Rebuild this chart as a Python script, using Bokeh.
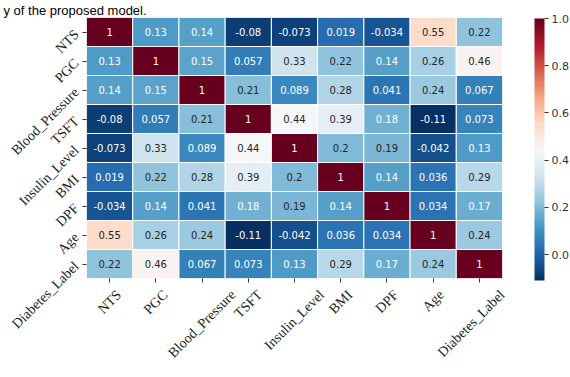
import numpy as np
from bokeh.plotting import figure
from bokeh.models import (ColumnDataSource, LinearColorMapper, ColorBar, FixedTicker,
                          PrintfTickFormatter, CustomJSTickFormatter, LinearAxis, Range1d)
from bokeh.core.properties import value
from bokeh.embed import file_html
from bokeh.resources import INLINE

# ---------------- data ----------------
features = ["NTS", "PGC", "Blood_Pressure", "TSFT", "Insulin_Level", "BMI", "DPF", "Age", "Diabetes_Label"]

row_nts = [1, 0.13, 0.14, -0.08, -0.073, 0.019, -0.034, 0.55, 0.22]
row_pgc = [0.13, 1, 0.15, 0.057, 0.33, 0.22, 0.14, 0.26, 0.46]
row_bp = [0.14, 0.15, 1, 0.21, 0.089, 0.28, 0.041, 0.24, 0.067]
row_tsft = [-0.08, 0.057, 0.21, 1, 0.44, 0.39, 0.18, -0.11, 0.073]
row_insulin = [-0.073, 0.33, 0.089, 0.44, 1, 0.2, 0.19, -0.042, 0.13]
row_bmi = [0.019, 0.22, 0.28, 0.39, 0.2, 1, 0.14, 0.036, 0.29]
row_dpf = [-0.034, 0.14, 0.041, 0.18, 0.19, 0.14, 1, 0.034, 0.17]
row_age = [0.55, 0.26, 0.24, -0.11, -0.042, 0.036, 0.034, 1, 0.24]
row_label = [0.22, 0.46, 0.067, 0.073, 0.13, 0.29, 0.17, 0.24, 1]

corr_rows = [row_nts, row_pgc, row_bp, row_tsft, row_insulin, row_bmi, row_dpf, row_age, row_label]

colorbar_ticks = [0.0, 0.2, 0.4, 0.6, 0.8, 1.0]
caption_text = "y of the proposed model."

# ---------------- colour map (RdBu_r) ----------------
rdbu_r_anchors = ["#053061", "#2166ac", "#4393c3", "#92c5de", "#d1e5f0", "#f7f7f7",
                  "#fddbc7", "#f4a582", "#d6604d", "#b2182b", "#67001f"]


def hex_to_rgb(h):
    h = h.lstrip("#")
    return [int(h[i:i + 2], 16) / 255.0 for i in (0, 2, 4)]


def interp_palette(anchors, n=256):
    rgb = np.array([hex_to_rgb(a) for a in anchors])
    pos = np.linspace(0, 1, len(anchors))
    t = np.linspace(0, 1, n)
    out = []
    for tt in t:
        c = [np.interp(tt, pos, rgb[:, k]) for k in range(3)]
        out.append("#%02x%02x%02x" % tuple(int(round(v * 255)) for v in c))
    return out


palette = interp_palette(rdbu_r_anchors, 256)
all_vals = [v for r in corr_rows for v in r]
vmin, vmax = min(all_vals), max(all_vals)
mapper = LinearColorMapper(palette=palette, low=vmin, high=vmax)


def cell_color(v):
    idx = int((v - vmin) / (vmax - vmin) * len(palette))
    idx = max(0, min(len(palette) - 1, idx))
    return palette[idx]


def rel_lum(hexcol):
    rgb = hex_to_rgb(hexcol)
    lin = [c / 12.92 if c <= 0.03928 else ((c + 0.055) / 1.055) ** 2.4 for c in rgb]
    return 0.2126 * lin[0] + 0.7152 * lin[1] + 0.0722 * lin[2]


# column positions on a numeric x scale: one unit per feature, centred at k + 0.5
col_center = {f: k + 0.5 for k, f in enumerate(features)}

xs, ys, vals, texts, tcolors = [], [], [], [], []
for i, rname in enumerate(features):
    for j, cname in enumerate(features):
        v = corr_rows[i][j]
        xs.append(col_center[cname])
        ys.append(rname)
        vals.append(v)
        texts.append(format(float(v), ".2g"))
        tcolors.append("#262626" if rel_lum(cell_color(v)) > 0.408 else "#ffffff")

src = ColumnDataSource(dict(x=xs, y=ys, val=vals, label=texts, tcolor=tcolors))

# ---------------- layout constants ----------------
W, H = 570, 377
BL, BR, BT, BB = 84, 68, 16, 99
FW, FH = W - BL - BR, H - BT - BB
TICK_FONT_PX = 14

# ---------------- figure ----------------
p = figure(width=W, height=H, x_range=Range1d(0, len(features)), y_range=list(reversed(features)),
           output_backend="svg", toolbar_location=None, title=caption_text,
           min_border_left=BL, min_border_right=BR, min_border_top=BT, min_border_bottom=BB)
p.outline_line_color = None
p.xgrid.visible = False
p.ygrid.visible = False
p.background_fill_color = "white"
p.border_fill_color = "white"

p.title.align = "left"
p.title.offset = -BL + 1
p.title.standoff = 0
p.title.text_font = "Liberation Sans"
p.title.text_font_size = "13px"
p.title.text_font_style = "normal"
p.title.text_color = "black"

p.rect(x="x", y="y", width=1, height=1, source=src,
       fill_color={"field": "val", "transform": mapper},
       line_color="white", line_width=1)

p.text(x="x", y="y", text="label", source=src, text_color="tcolor",
       text_align="center", text_baseline="middle",
       text_font=value("DejaVu Sans"), text_font_size="10px")

for ax in (p.xaxis[0], p.yaxis[0]):
    ax.axis_line_color = None
    ax.major_tick_line_color = "#333333"
    ax.major_tick_out = 4
    ax.major_tick_in = 0
    ax.minor_tick_line_color = None
    ax.major_label_text_font = "Liberation Serif"
    ax.major_label_text_font_size = "%dpx" % TICK_FONT_PX
    ax.major_label_text_color = "#222222"

p.yaxis[0].major_label_orientation = np.pi / 4
p.yaxis[0].major_label_standoff = 6

# x axis: tick marks at the column centres, no labels
p.xaxis[0].ticker = FixedTicker(ticks=[col_center[f] for f in features])
p.xaxis[0].formatter = CustomJSTickFormatter(code="return ''")
p.xaxis[0].major_label_text_font_size = "1px"
p.xaxis[0].major_label_standoff = 0

# second axis: rotated x labels, each centred under its tick (kept inside the range)
times_w = {"A": .722, "B": .667, "C": .667, "D": .722, "F": .556, "G": .722, "I": .333,
           "L": .611, "M": .889, "N": .722, "P": .556, "S": .556, "T": .611, "a": .444,
           "b": .5, "d": .5, "e": .444, "g": .5, "i": .278, "l": .278, "n": .5, "o": .5,
           "r": .333, "s": .389, "t": .278, "u": .5, "v": .5, "_": .5}
cell_px = FW / len(features)
label_pos = []
for f in features:
    tw = sum(times_w.get(ch, .5) for ch in f) * TICK_FONT_PX
    label_pos.append(round(min(col_center[f] + 0.3536 * tw / cell_px, len(features) - 0.005), 4))

xlab_axis = LinearAxis(ticker=FixedTicker(ticks=label_pos),
                       formatter=CustomJSTickFormatter(
                           args=dict(pos=label_pos, names=features),
                           code="""
let best = 0;
for (let i = 0; i < pos.length; i++) {
  if (Math.abs(tick - pos[i]) < Math.abs(tick - pos[best])) best = i;
}
return names[best];
"""),
                       major_label_orientation=np.pi / 4,
                       axis_line_color=None, major_tick_line_color=None,
                       minor_tick_line_color=None, major_tick_out=0, major_tick_in=0,
                       minor_tick_out=0, minor_tick_in=0, major_label_standoff=10,
                       major_label_text_font="Liberation Serif",
                       major_label_text_font_size="%dpx" % TICK_FONT_PX,
                       major_label_text_color="#222222")
p.add_layout(xlab_axis, "below")

cb = ColorBar(color_mapper=mapper, ticker=FixedTicker(ticks=colorbar_ticks),
              formatter=PrintfTickFormatter(format="%.1f"),
              width=10, height=FH, padding=0, margin=0, location=(FW + 30, -2),
              major_tick_out=4, major_tick_in=0, major_tick_line_color="#333333",
              minor_tick_line_color=None, bar_line_color=None, border_line_color=None,
              background_fill_alpha=0,
              major_label_text_font="DejaVu Sans", major_label_text_font_size="11px",
              major_label_text_color="#333333", label_standoff=3)
p.add_layout(cb)

open("out.html", "w").write(file_html(p, INLINE))
